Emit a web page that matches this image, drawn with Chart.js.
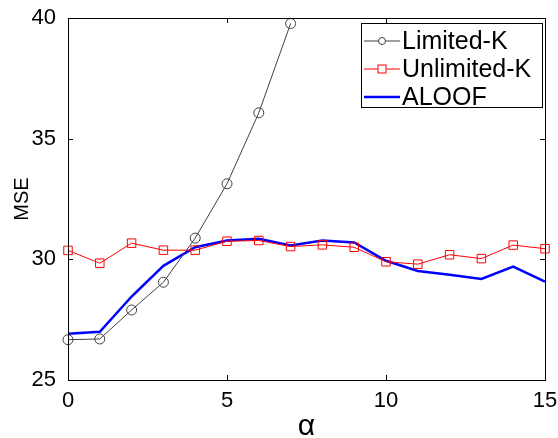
<!DOCTYPE html>
<html>
<head>
<meta charset="utf-8">
<script src="https://cdn.jsdelivr.net/npm/chart.js@4"></script>
<style>
    html, body { margin: 0; padding: 0; background: #fff; }
    #wrap { width: 558px; height: 438px; position: relative; }
</style>
</head>
<body>
<div id="wrap"><canvas id="wykres"></canvas></div>
<script>
const alfa = [0, 1, 2, 3, 4, 5, 6, 7, 8, 9, 10, 11, 12, 13, 14, 15];
const limitedK = [26.67, 26.7, 27.9, 29.05, 30.88, 33.13, 36.07, 39.77];
const unlimitedK = [30.37, 29.84, 30.67, 30.38, 30.38, 30.75, 30.78, 30.53, 30.6, 30.5, 29.9, 29.8, 30.19, 30.03, 30.59, 30.44];
const aloof = [26.92, 27.0, 28.46, 29.73, 30.5, 30.78, 30.85, 30.57, 30.78, 30.7, 29.94, 29.52, 29.36, 29.19, 29.7, 29.08];
const etykietyX = [0, 5, 10, 15];
const etykietyY = [25, 30, 35, 40];

const CZCIONKA = 'Arial, "Liberation Sans", sans-serif';

function punkty(wartosci) {
    return wartosci.map((v, i) => ({ x: alfa[i], y: v }));
}

// tick marks inside the box, on all four sides (matlab look)
const ramkaITiki = {
    id: 'ramkaITiki',
    afterDatasetsDraw(chart) {
        const { ctx, chartArea: a, scales } = chart;
        ctx.save();
        ctx.strokeStyle = '#000';
        ctx.lineWidth = 1;
        ctx.strokeRect(a.left + 0.5, a.top + 0.5, a.right - a.left, a.bottom - a.top);
        const dl = 5;
        ctx.beginPath();
        etykietyX.forEach(v => {
            const x = Math.round(scales.x.getPixelForValue(v)) + 0.5;
            ctx.moveTo(x, a.bottom); ctx.lineTo(x, a.bottom - dl);
            ctx.moveTo(x, a.top); ctx.lineTo(x, a.top + dl);
        });
        etykietyY.forEach(v => {
            const y = Math.round(scales.y.getPixelForValue(v)) + 0.5;
            ctx.moveTo(a.left, y); ctx.lineTo(a.left + dl, y);
            ctx.moveTo(a.right, y); ctx.lineTo(a.right - dl, y);
        });
        ctx.stroke();
        ctx.restore();
    }
};

// legend drawn inside the plot, top right corner
const legendaWewn = {
    id: 'legendaWewn',
    afterDraw(chart) {
        const { ctx } = chart;
        const x0 = 361, y0 = 23, szer = 181, wys = 84;
        ctx.save();
        ctx.fillStyle = '#fff';
        ctx.fillRect(x0, y0, szer, wys);
        ctx.strokeStyle = '#000';
        ctx.lineWidth = 1;
        ctx.strokeRect(x0 + 0.5, y0 + 0.5, szer, wys);
        ctx.font = '25px ' + CZCIONKA;
        ctx.textBaseline = 'middle';
        chart.data.datasets.forEach((ds, i) => {
            const y = 41 + i * 28;
            ctx.strokeStyle = ds.borderColor;
            ctx.lineWidth = ds.borderWidth;
            ctx.beginPath();
            ctx.moveTo(x0 + 3, y); ctx.lineTo(x0 + 39, y);
            ctx.stroke();
            ctx.lineWidth = 1;
            const sx = x0 + 21;
            if (ds.pointStyle === 'circle') {
                ctx.fillStyle = '#fff';
                ctx.beginPath(); ctx.arc(sx, y, 3.5, 0, Math.PI * 2); ctx.fill(); ctx.stroke();
            } else if (ds.pointStyle === 'rect') {
                ctx.fillStyle = '#fff';
                ctx.fillRect(sx - 4, y - 4, 8, 8);
                ctx.strokeRect(sx - 4, y - 4, 8, 8);
            }
            ctx.fillStyle = '#000';
            ctx.fillText(ds.label, x0 + 41, y + 1);
        });
        ctx.restore();
    }
};

new Chart(document.getElementById('wykres'), {
    type: 'line',
    data: {
        datasets: [
            {
                label: 'Limited-K',
                data: punkty(limitedK),
                borderColor: '#404040',
                borderWidth: 1,
                pointStyle: 'circle',
                pointRadius: 5,
                pointBorderWidth: 1,
                pointBorderColor: '#404040',
                pointBackgroundColor: 'rgba(0,0,0,0)',
                clip: false
            },
            {
                label: 'Unlimited-K',
                data: punkty(unlimitedK),
                borderColor: '#ff0000',
                borderWidth: 1,
                pointStyle: 'rect',
                pointRadius: 6,
                pointBorderWidth: 1,
                pointBorderColor: '#ff0000',
                pointBackgroundColor: 'rgba(0,0,0,0)',
                clip: false
            },
            {
                label: 'ALOOF',
                data: punkty(aloof),
                borderColor: '#0000ff',
                borderWidth: 2.5,
                pointRadius: 0,
                pointStyle: false
            }
        ]
    },
    options: {
        responsive: true,
        maintainAspectRatio: false,
        animation: false,
        layout: { padding: { top: 18, right: 13, left: 0, bottom: 0 } },
        plugins: {
            legend: { display: false },
            tooltip: { enabled: false }
        },
        scales: {
            x: {
                type: 'linear',
                min: 0, max: 15,
                afterFit: s => { s.height = 58; },
                afterBuildTicks: s => { s.ticks = etykietyX.map(v => ({ value: v })); },
                grid: { display: false },
                border: { display: false },
                ticks: { color: '#000', font: { size: 22, family: CZCIONKA }, padding: 0, maxRotation: 0 },
                title: { display: true, text: 'α', color: '#000', font: { size: 30, family: CZCIONKA }, padding: { top: 0, bottom: -7 } }
            },
            y: {
                min: 25, max: 40,
                afterFit: s => { s.width = 68; },
                afterBuildTicks: s => { s.ticks = etykietyY.map(v => ({ value: v })); },
                grid: { display: false },
                border: { display: false },
                ticks: { color: '#000', font: { size: 22, family: CZCIONKA }, padding: 4 },
                title: { display: true, text: 'MSE', color: '#000', font: { size: 20, family: CZCIONKA }, padding: { top: 10, bottom: 0 } }
            }
        }
    },
    plugins: [ramkaITiki, legendaWewn]
});
</script>
</body>
</html>
